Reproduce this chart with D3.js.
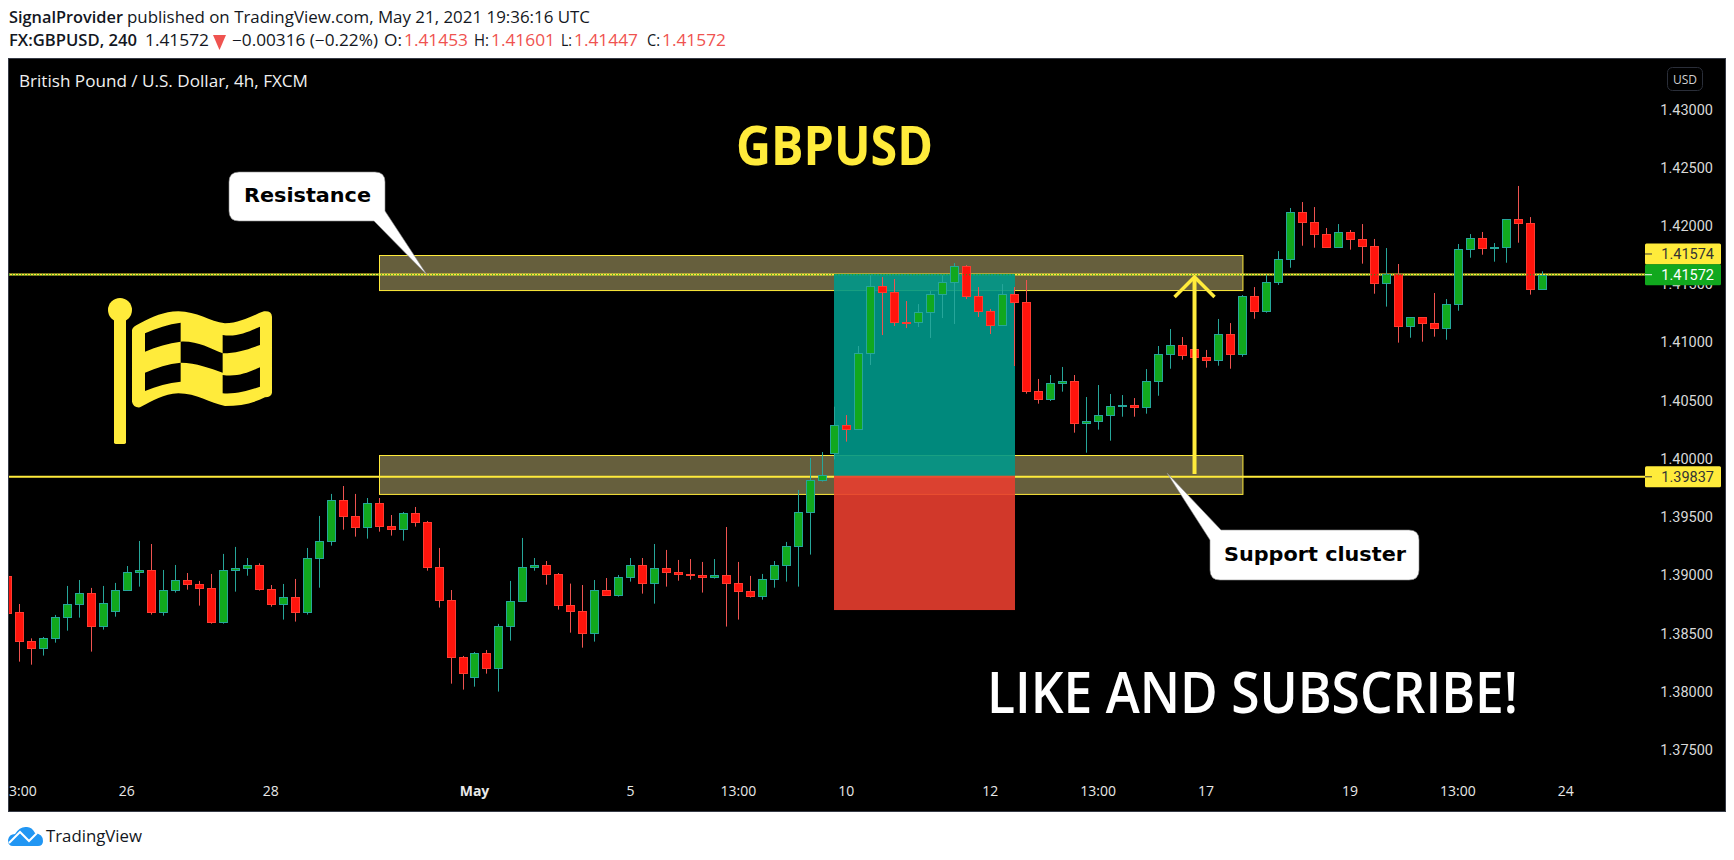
<!DOCTYPE html>
<html><head><meta charset="utf-8">
<style>html,body{margin:0;padding:0;background:#fff;overflow:hidden}svg{display:block}</style>
<script src="https://cdn.jsdelivr.net/npm/d3@7/dist/d3.min.js"></script>
</head><body><svg id="c" width="1734" height="860"></svg>
<script>
const openPrices=[1.38986,1.38674,1.38425,1.38362,1.38450,1.38628,1.38742,1.38837,1.38551,1.38682,1.38860,1.39017,1.39034,1.38671,1.38860,1.38948,1.38914,1.38880,1.38585,1.39031,1.39051,1.39077,1.38871,1.38739,1.38802,1.38671,1.39137,1.39283,1.39635,1.39498,1.39401,1.39610,1.39412,1.39383,1.39524,1.39446,1.39060,1.38777,1.38287,1.38113,1.38322,1.38190,1.38551,1.38765,1.39060,1.39077,1.39000,1.38734,1.38682,1.38490,1.38862,1.38817,1.38971,1.39077,1.38920,1.39051,1.39017,1.39000,1.38991,1.38971,1.38991,1.38923,1.38854,1.38808,1.38954,1.39074,1.39237,1.39532,1.39807,1.40036,1.40279,1.40242,1.40894,1.41472,1.41421,1.41166,1.41160,1.41249,1.41401,1.41507,1.41644,1.41386,1.41258,1.41137,1.41403,1.41335,1.40571,1.40499,1.40639,1.40657,1.40296,1.40310,1.40362,1.40439,1.40450,1.40430,1.40654,1.40885,1.40966,1.40931,1.40863,1.40834,1.41060,1.40885,1.41386,1.41255,1.41504,1.41701,1.42107,1.42022,1.41919,1.41804,1.41936,1.41876,1.41816,1.41495,1.41575,1.41126,1.41206,1.41155,1.41109,1.41315,1.41787,1.41884,1.41796,1.41804,1.42047,1.42013,1.41453];
const highPrices=[1.38990,1.38745,1.38450,1.38462,1.38651,1.38900,1.38951,1.38883,1.38900,1.38926,1.39071,1.39286,1.39260,1.39037,1.39080,1.39011,1.38943,1.39003,1.39175,1.39235,1.39140,1.39094,1.38908,1.38917,1.38960,1.39226,1.39501,1.39690,1.39758,1.39690,1.39655,1.39655,1.39509,1.39535,1.39578,1.39458,1.39226,1.38865,1.38299,1.38333,1.38350,1.38574,1.38943,1.39312,1.39140,1.39114,1.39011,1.38920,1.38908,1.38951,1.38968,1.38994,1.39140,1.39140,1.39260,1.39209,1.39123,1.39131,1.39106,1.39131,1.39406,1.39106,1.38986,1.39003,1.39114,1.39278,1.39724,1.39999,1.40050,1.40439,1.40367,1.40960,1.41575,1.41552,1.41535,1.41346,1.41320,1.41432,1.41575,1.41672,1.41655,1.41466,1.41278,1.41492,1.41466,1.41527,1.40677,1.40711,1.40780,1.40711,1.40522,1.40625,1.40548,1.40539,1.40513,1.40762,1.40960,1.41106,1.41037,1.41037,1.40926,1.41192,1.41157,1.41398,1.41466,1.41578,1.41775,1.42145,1.42196,1.42153,1.41973,1.42007,1.41956,1.42007,1.41879,1.41801,1.41664,1.41206,1.41206,1.41415,1.41363,1.41836,1.41921,1.41939,1.41844,1.42047,1.42334,1.42067,1.41601];
const lowPrices=[1.38665,1.38250,1.38224,1.38302,1.38413,1.38516,1.38628,1.38336,1.38525,1.38636,1.38860,1.38894,1.38654,1.38645,1.38843,1.38868,1.38731,1.38576,1.38576,1.38851,1.38988,1.38860,1.38722,1.38611,1.38594,1.38654,1.38885,1.39246,1.39383,1.39323,1.39306,1.39366,1.39332,1.39289,1.39409,1.39031,1.38714,1.38061,1.38010,1.38035,1.38147,1.37993,1.38430,1.38765,1.39031,1.38911,1.38697,1.38499,1.38370,1.38422,1.38817,1.38808,1.38937,1.38834,1.38748,1.38894,1.38945,1.38954,1.38843,1.38963,1.38551,1.38611,1.38800,1.38782,1.38885,1.38937,1.38894,1.39169,1.39796,1.39987,1.40139,1.40242,1.40797,1.41054,1.41132,1.41114,1.41123,1.41029,1.41200,1.41149,1.41363,1.41209,1.41063,1.41134,1.40788,1.40551,1.40465,1.40488,1.40568,1.40216,1.40044,1.40242,1.40147,1.40353,1.40353,1.40379,1.40533,1.40765,1.40842,1.40842,1.40774,1.40791,1.40765,1.40868,1.41194,1.41246,1.41484,1.41632,1.41821,1.41804,1.41804,1.41804,1.41787,1.41667,1.41409,1.41298,1.40989,1.41031,1.40997,1.41040,1.41014,1.41263,1.41718,1.41744,1.41684,1.41675,1.41847,1.41401,1.41447];
const closePrices=[1.38671,1.38425,1.38362,1.38450,1.38631,1.38742,1.38837,1.38551,1.38751,1.38862,1.39017,1.39034,1.38671,1.38862,1.38948,1.38911,1.38877,1.38585,1.39034,1.39051,1.39077,1.38868,1.38739,1.38802,1.38671,1.39137,1.39283,1.39635,1.39495,1.39401,1.39610,1.39409,1.39383,1.39524,1.39444,1.39060,1.38774,1.38284,1.38147,1.38322,1.38190,1.38553,1.38768,1.39060,1.39077,1.38997,1.38731,1.38679,1.38490,1.38862,1.38817,1.38974,1.39077,1.38920,1.39051,1.39014,1.38997,1.38988,1.38971,1.38991,1.38920,1.38851,1.38808,1.38957,1.39077,1.39240,1.39532,1.39807,1.39850,1.40279,1.40242,1.40897,1.41472,1.41418,1.41160,1.41160,1.41249,1.41403,1.41507,1.41644,1.41384,1.41258,1.41137,1.41403,1.41332,1.40568,1.40502,1.40639,1.40657,1.40293,1.40313,1.40365,1.40442,1.40450,1.40430,1.40657,1.40888,1.40966,1.40877,1.40860,1.40834,1.41060,1.40885,1.41386,1.41255,1.41506,1.41704,1.42107,1.42019,1.41916,1.41804,1.41936,1.41873,1.41813,1.41495,1.41575,1.41126,1.41206,1.41152,1.41109,1.41318,1.41790,1.41884,1.41796,1.41807,1.42047,1.42010,1.41443,1.41572];
const priceTicks=[1.375,1.38,1.385,1.39,1.395,1.40,1.405,1.41,1.415,1.42,1.425,1.43];
const timeTickIndex=[1,10,22,39,52,61,70,82,91,100,112,121,130];
const timeTickLabels=["13:00","26","28","May","5","13:00","10","12","13:00","17","19","13:00","24"];
const alertLevel=1.41574, supportLevel=1.39837, lastPrice=1.41572;
const bandResistance=[1.41739,1.41438], bandSupport=[1.40021,1.39687];
const bandIndexRange=[31,103];
const positionIndexRange=[69,84];
const stopLevel=1.38693;
const arrowIndex=99, arrowLevels=[1.39860,1.41570];

const YEL="#ffeb3b", GRN="#11a81e", RED="#ff140c", TEAL="#26a69a", REDL="#ef5350";
const svg=d3.select("#c");
const x=d3.scaleLinear().domain([0,128]).range([7.3,1542.3]);
const y=d3.scaleLinear().domain([1.375,1.43]).range([749,108.4]);
const px=v=>Math.floor(x(v))+.5;
const FT="'Open Sans',sans-serif";

// pane
svg.append("rect").attr("x",8.5).attr("y",58.5).attr("width",1717).attr("height",753).attr("fill","#000").attr("stroke","#363a45");
const defs=svg.append("defs");
defs.append("clipPath").attr("id","pane").append("rect").attr("x",9).attr("y",59).attr("width",1636).attr("height",752);
const g=svg.append("g").attr("clip-path","url(#pane)");

// bands
[bandResistance,bandSupport].forEach(b=>{
  g.append("rect").attr("x",px(bandIndexRange[0])).attr("y",Math.round(y(b[0]))+.5)
   .attr("width",x(bandIndexRange[1])-x(bandIndexRange[0])).attr("height",y(b[1])-y(b[0]))
   .attr("fill","#665f3d").attr("stroke",YEL).attr("stroke-width",1);
});
// horizontal lines
[alertLevel,supportLevel].forEach(l=>{
  g.append("line").attr("x1",9).attr("x2",1645).attr("y1",y(l)).attr("y2",y(l)).attr("stroke",YEL).attr("stroke-width",2);
});
// position box
const bx=Math.floor(x(positionIndexRange[0])), bw=Math.ceil(x(positionIndexRange[1]))-bx;
g.append("rect").attr("x",bx).attr("width",bw).attr("y",y(alertLevel)-.5).attr("height",y(supportLevel)-y(alertLevel)-.5).attr("fill","#009889").attr("fill-opacity",.9);
g.append("rect").attr("x",bx).attr("width",bw).attr("y",y(supportLevel)-1).attr("height",y(stopLevel)-y(supportLevel)+1).attr("fill","#e83e2f").attr("fill-opacity",.9);

// candles
const data=d3.range(openPrices.length).map(i=>({i,o:openPrices[i],h:highPrices[i],l:lowPrices[i],c:closePrices[i]}));
const cg=g.append("g").selectAll("g").data(data).join("g");
cg.append("line").attr("x1",d=>px(d.i)).attr("x2",d=>px(d.i)).attr("y1",d=>y(d.h)).attr("y2",d=>y(d.l))
  .attr("stroke",d=>d.c>=d.o?TEAL:REDL);
cg.append("rect").attr("x",d=>px(d.i)-4).attr("width",8)
  .attr("y",d=>Math.round(y(Math.max(d.o,d.c)))+.5)
  .attr("height",d=>Math.max(1,Math.round(Math.abs(y(d.o)-y(d.c)))))
  .attr("fill",d=>d.c>=d.o?GRN:RED).attr("stroke",d=>d.c>=d.o?TEAL:"#ff3b30");

// last price dotted
g.append("line").attr("x1",9).attr("x2",1645).attr("y1",y(lastPrice)).attr("y2",y(lastPrice)).attr("stroke",GRN).attr("stroke-dasharray","1 2");

// arrow
const ax=x(arrowIndex);
g.append("path").attr("d",`M${ax},${y(arrowLevels[0])}V${y(arrowLevels[1])+2}`).attr("stroke",YEL).attr("stroke-width",4).attr("fill","none");
g.append("path").attr("d",`M${ax-20},${y(arrowLevels[1])+22}L${ax},${y(arrowLevels[1])+2}L${ax+20},${y(arrowLevels[1])+22}`).attr("stroke",YEL).attr("stroke-width",3.5).attr("fill","none");

// flag icon (decorative glyph)
const flag=svg.append("g").attr("transform","translate(90,280) scale(.3333)").attr("fill",YEL);
flag.append("circle").attr("cx",90).attr("cy",90).attr("r",36);
flag.append("rect").attr("x",72).attr("y",90).attr("width",36).attr("height",402).attr("rx",5);
flag.append("path").attr("fill-rule","evenodd").attr("d",
 "M126,150Q128,140 150,130C190,110 220,95 265,94C320,94 360,125 405,130C450,130 490,105 522,94Q545,92 546,110L546,338Q545,350 525,352C490,370 450,378 405,378C360,370 320,340 265,340C220,342 190,362 150,382Q130,384 126,365Z"+
 "M165,160C200,145 235,132 272,128L272,185C235,190 200,200 165,215Z"+
 "M272,185C320,182 360,205 398,220L398,278C360,265 320,248 272,248Z"+
 "M398,165C440,172 475,155 510,140L510,195C475,208 440,220 398,220Z"+
 "M165,278C200,262 235,252 272,248L272,305C235,308 200,318 165,333Z"+
 "M398,285C440,292 475,278 510,262L510,320C475,332 440,343 398,340Z");

// big texts
function fit(sel,w){return sel.attr("textLength",w).attr("lengthAdjust","spacingAndGlyphs");}
fit(svg.append("text").attr("x",736).attr("y",165).attr("font-family",FT).attr("font-weight",700).attr("font-size",54).attr("fill",YEL).text("GBPUSD"),197);
fit(svg.append("text").attr("x",987).attr("y",713).attr("font-family",FT).attr("font-weight",600).attr("font-size",58).attr("fill","#fff").text("LIKE AND SUBSCRIBE!"),531);

// callouts
const bubble=(d,t,tx,ty,w)=>{
  svg.append("path").attr("d",d).attr("fill","#fff").attr("stroke","#8a8a8a").attr("stroke-width",.6);
  fit(svg.append("text").attr("x",tx).attr("y",ty).attr("font-family","'DejaVu Sans',sans-serif").attr("font-weight",700).attr("font-size",19).attr("fill","#000").text(t),w);
};
bubble("M239,172H375Q385,172 385,182V211L427,275L374,221H239Q229,221 229,211V182Q229,172 239,172Z","Resistance",244,202,127);
bubble("M1221,530H1409Q1419,530 1419,540V570Q1419,580 1409,580H1220Q1210,580 1210,570V540L1167,473Z","Support cluster",1224,561,182);

// axes
const axY=svg.append("g").attr("transform","translate(1703,1)").call(d3.axisRight(y).tickValues(priceTicks).tickSize(0).tickPadding(0).tickFormat(d3.format(".5f")));
axY.select(".domain").remove();
axY.selectAll("text").attr("font-family","Roboto,sans-serif").attr("font-size",14.5).attr("fill","#d8d8d8").attr("text-anchor","end").attr("dx",10);

const axX=svg.append("g").attr("clip-path","url(#paneX)");
defs.append("clipPath").attr("id","paneX").append("rect").attr("x",9).attr("y",770).attr("width",1636).attr("height",40);
const axXi=axX.append("g").attr("transform","translate(-1,786)").call(d3.axisBottom(x).tickValues(timeTickIndex).tickSize(0).tickPadding(0).tickFormat((d,i)=>timeTickLabels[i]));
axXi.select(".domain").remove();
axXi.selectAll("text").attr("font-family",FT).attr("font-size",14).attr("fill","#e8e8e8").attr("font-weight",(d,i)=>timeTickLabels[i]==="May"?700:400);

// price tags
function drawTag(cy,col,txt,tcol){
  svg.append("rect").attr("x",1645).attr("y",cy-10.5).attr("width",76).attr("height",21).attr("rx",1.5).attr("fill",col);
  svg.append("line").attr("x1",1645).attr("x2",1652).attr("y1",cy).attr("y2",cy).attr("stroke",tcol);
  svg.append("text").attr("x",1714).attr("y",cy+5).attr("text-anchor","end").attr("font-family","Roboto,sans-serif").attr("font-size",14.5).attr("fill",tcol).text(txt);
}
drawTag(y(alertLevel)-20.5,YEL,d3.format(".5f")(alertLevel),"#333");
drawTag(y(lastPrice),GRN,d3.format(".5f")(lastPrice),"#fff");
drawTag(y(supportLevel),YEL,d3.format(".5f")(supportLevel),"#333");

// USD
svg.append("rect").attr("x",1667.5).attr("y",67.5).attr("width",35).attr("height",23).attr("rx",5).attr("fill","#000").attr("stroke","#2a2e39");
svg.append("text").attr("x",1685).attr("y",84).attr("text-anchor","middle").attr("font-family",FT).attr("font-size",12).attr("fill","#d0d0d0").text("USD");

// header text
const T=(x0,yy,s,w,opt={})=>fit(svg.append("text").attr("x",x0).attr("y",yy).attr("font-family",FT).attr("font-size",opt.size||15.5).attr("font-weight",opt.w||400).attr("fill",opt.c||"#131722").text(s),w);
T(9,23,"SignalProvider",114,{w:600});
T(127,23,"published on TradingView.com, May 21, 2021 19:36:16 UTC",463);
T(9,46,"FX:GBPUSD, 240",128,{w:600});
T(145,46,"1.41572",64);
svg.append("path").attr("d","M213,35H226L219.5,50Z").attr("fill",REDL);
T(232,46,"−0.00316 (−0.22%)",146);
const ohlc=[["O:",384,"1.41453",404],["H:",474,"1.41601",491],["L:",561,"1.41447",574],["C:",647,"1.41572",662]];
ohlc.forEach(a=>{T(a[1],46,a[0],a[3]-a[1]-2);T(a[3],46,a[2],64,{c:REDL});});
T(19,87,"British Pound / U.S. Dollar, 4h, FXCM",289,{c:"#f0f0f0"});

// logo
svg.append("path").attr("fill","#2196f3").attr("d","M8,840Q9,834 15,834Q20,826 27,827Q32,827 35,833Q43,834 43,841Q43,846 38,846H13Q8,846 8,840Z");
svg.append("path").attr("fill","none").attr("stroke","#fff").attr("stroke-width",2).attr("d","M9,843L20,832L29,841L37,833");
fit(svg.append("text").attr("x",46).attr("y",842).attr("font-family",FT).attr("font-size",17).attr("fill","#131722").text("TradingView"),96);
</script></body></html>
